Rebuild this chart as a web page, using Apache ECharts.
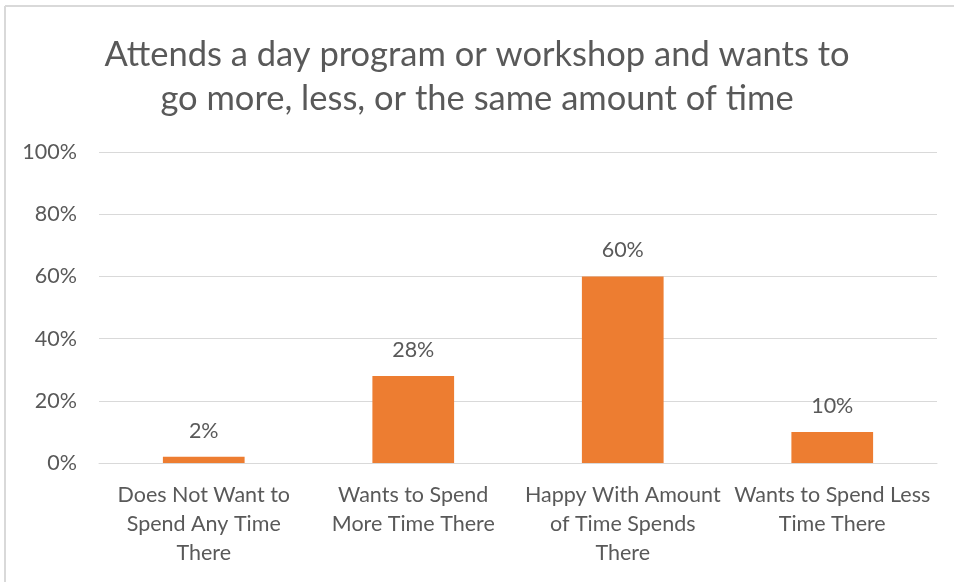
<!DOCTYPE html>
<html>
<head>
<meta charset="utf-8">
<script src="https://cdn.jsdelivr.net/npm/echarts@6/dist/echarts.min.js"></script>
<style>
html,body{margin:0;padding:0;background:#fff;}
#chart{width:954px;height:582px;}
</style>
</head>
<body>
<div id="chart"></div>
<script>
const titleText = "Attends a day program or workshop and wants to\ngo more, less, or the same amount of time";
const categories = [
  "Does Not Want to\nSpend Any Time\nThere",
  "Wants to Spend\nMore Time There",
  "Happy With Amount\nof Time Spends\nThere",
  "Wants to Spend Less\nTime There"
];
const values = [2, 28, 60, 10];
const yTicks = { min: 0, max: 100, interval: 20 };

const FONT = "Lato";
const TXT = "#595959";
const chart = echarts.init(document.getElementById('chart'), null, {renderer: 'canvas'});
chart.setOption({
  animation: false,
  backgroundColor: '#fff',
  graphic: [
    { type: 'line', shape: { x1: 5, y1: 6, x2: 954, y2: 6 }, style: { stroke: '#d9d9d9', lineWidth: 2 } },
    { type: 'line', shape: { x1: 5, y1: 6, x2: 5, y2: 582 }, style: { stroke: '#d9d9d9', lineWidth: 2 } }
  ],
  title: {
    text: titleText,
    left: 'center',
    top: 28,
    textStyle: { fontFamily: FONT, fontSize: 34.5, fontWeight: 'normal', color: TXT, lineHeight: 44 }
  },
  grid: { left: 99, right: 17, top: 152, bottom: 119, containLabel: false },
  xAxis: {
    type: 'category',
    data: categories,
    axisLine: { lineStyle: { color: '#d9d9d9', width: 1 } },
    axisTick: { show: false },
    axisLabel: {
      interval: 0, color: TXT, fontFamily: FONT, fontSize: 21.5, lineHeight: 29, margin: 18
    }
  },
  yAxis: {
    type: 'value',
    min: yTicks.min, max: yTicks.max, interval: yTicks.interval,
    axisLine: { show: false },
    axisTick: { show: false },
    splitLine: { lineStyle: { color: '#d9d9d9', width: 1 } },
    axisLabel: { color: TXT, fontFamily: FONT, fontSize: 21.5, margin: 22, formatter: v => v + '%' }
  },
  series: [{
    type: 'bar',
    data: values,
    barWidth: '39%',
    itemStyle: { color: '#ED7D31' },
    label: {
      show: true, position: 'top', distance: 15,
      color: TXT, fontFamily: FONT, fontSize: 21.5,
      formatter: p => p.value + '%'
    }
  }]
});
</script>
</body>
</html>
